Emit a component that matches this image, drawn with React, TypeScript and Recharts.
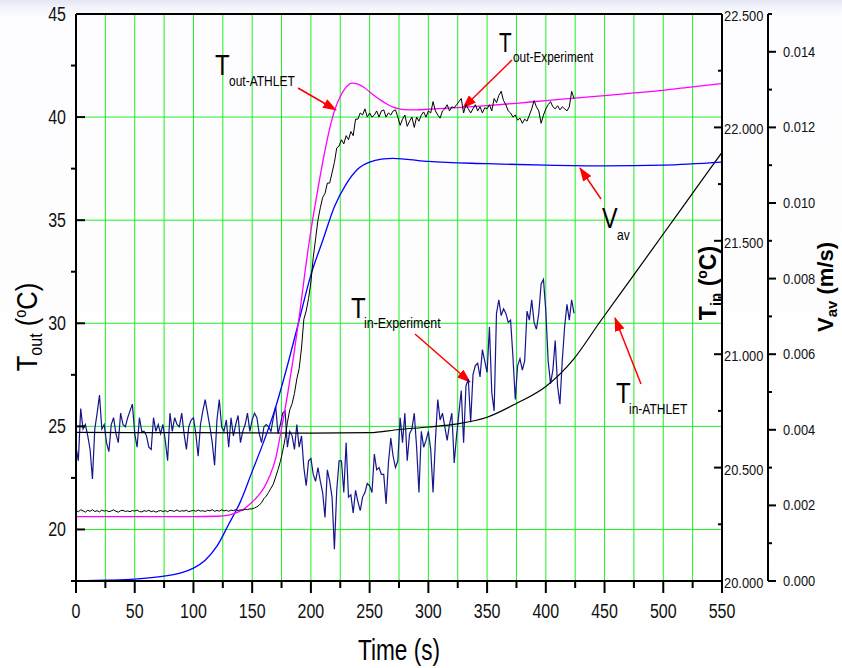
import React from 'react';
import { ComposedChart, Line, XAxis, YAxis, CartesianGrid, ReferenceLine, Customized } from 'recharts';

const FONT = '"Liberation Sans", Arial, Helvetica, sans-serif';

// ---- axis ticks ----
const X_TICKS = [0, 25, 50, 75, 100, 125, 150, 175, 200, 225, 250, 275, 300, 325, 350, 375, 400, 425, 450, 475, 500, 525, 550];
const L_TICKS = [17.5, 20, 22.5, 25, 27.5, 30, 32.5, 35, 37.5, 40, 42.5, 45];
const TIN_TICKS = [20, 20.25, 20.5, 20.75, 21, 21.25, 21.5, 21.75, 22, 22.25, 22.5];
const V_TICKS = [0, 0.001, 0.002, 0.003, 0.004, 0.005, 0.006, 0.007, 0.008, 0.009, 0.01, 0.011, 0.012, 0.013, 0.014, 0.015];
const GRID_Y = [20, 25, 30, 35, 40];

// ---- T_out-ATHLET (left axis, °C) ----
const T_OUT_ATHLET_T = [0, 50, 100, 120, 130, 135, 140, 145, 150, 155, 160, 165, 170, 175, 180, 185, 190, 195, 200, 205, 210, 215, 220, 225, 230, 235, 240, 245, 250, 255, 260, 265, 270, 275, 280, 290, 300, 325, 350, 375, 400, 425, 450, 475, 500, 525, 550];
const T_OUT_ATHLET = [20.62, 20.62, 20.62, 20.64, 20.7, 20.78, 20.9, 21.08, 21.33, 21.63, 22.02, 22.6, 23.45, 24.9, 26.5, 28.3, 30.3, 32.5, 34.5, 36.2, 37.8, 39.2, 40.3, 41.0, 41.45, 41.65, 41.6, 41.45, 41.22, 41.0, 40.8, 40.62, 40.48, 40.4, 40.36, 40.35, 40.38, 40.46, 40.56, 40.67, 40.8, 40.92, 41.04, 41.17, 41.3, 41.47, 41.63];

// ---- T_out-Experiment (left axis, °C), sampled every 2 s from t = 0 ----
const EXP_STEP = 2;
const T_OUT_EXP_BASE = [
  20.92, 20.86, 20.95, 20.9, 20.84, 20.93, 20.88, 20.96, 20.87, 20.91,
  20.85, 20.94, 20.89, 20.92, 20.86, 20.9, 20.95, 20.88, 20.84, 20.91,
  20.93, 20.87, 20.9, 20.86, 20.92, 20.89, 20.94, 20.87, 20.85, 20.91,
  20.88, 20.93, 20.86, 20.9, 20.84, 20.89, 20.92, 20.87, 20.91, 20.86,
  20.93, 20.9, 20.88, 20.95, 20.87, 20.91, 20.89, 20.93, 20.86, 20.9,
  20.92, 20.88, 20.94, 20.89, 20.91, 20.87, 20.93, 20.9, 20.96, 20.88,
  20.92, 20.89, 20.95, 20.9, 20.93, 20.88, 20.94, 20.91, 20.96, 20.92,
  20.95, 20.93, 20.98, 20.96, 21.0,
];
const T_OUT_EXP_RISE = [
  21.0, 21.04, 21.1, 21.18, 21.3, 21.5, 21.62, 21.8, 22.0, 22.2,
  22.55, 22.9, 23.3, 23.8, 24.4, 25.2, 25.8, 26.1, 26.6, 27.3,
  27.8, 28.8, 30.2, 30.6, 31.2, 32.0, 33.2, 34.1, 35.0, 35.6,
  36.1, 36.3, 36.8, 36.8, 37.3, 37.8, 38.5, 38.6, 38.9, 38.7,
  39.1, 38.9, 39.3, 39.1, 39.9, 39.9, 40.2, 40.1, 40.4, 40.0,
];
const T_OUT_EXP_TOP = [
  40.2, 40.0, 40.1, 40.3, 40.0, 40.3, 40.35, 40.0, 40.2, 40.1,
  40.3, 40.35, 40.0, 39.6, 39.9, 40.1, 39.55, 39.8, 40.0, 39.5,
  40.0, 39.8, 40.1, 40.25, 40.0, 40.3, 40.2, 40.75, 40.3, 40.1,
  39.95, 40.3, 40.4, 40.6, 40.3, 40.5, 40.45, 40.6, 40.75, 40.9,
  40.2, 40.6, 40.4, 40.2, 40.4, 40.6, 40.3, 40.5, 40.2, 40.45,
  40.4, 40.6, 40.3, 40.9, 40.7, 41.05, 41.25, 40.8, 40.6, 40.3,
  40.2, 40.0, 40.1, 39.85, 39.95, 39.7, 39.9, 39.8, 40.1, 40.4,
  40.8, 40.5, 40.3, 39.7, 40.1, 40.4, 40.6, 40.75, 40.5, 40.4,
  40.55, 40.35, 40.5, 40.4, 40.3, 40.5, 41.25, 40.9,
];

// ---- V_av (right axis 2, m/s) ----
const V_AV_T = [0, 25, 50, 75, 90, 100, 110, 120, 130, 140, 150, 160, 170, 180, 190, 200, 210, 220, 230, 240, 250, 260, 270, 280, 300, 350, 400, 450, 500, 550];
const V_AV = [0, 0.00002, 0.00005, 0.00013, 0.00022, 0.00034, 0.00055, 0.00092, 0.0015, 0.0021, 0.0029, 0.0037, 0.0046, 0.0057, 0.0069, 0.0081, 0.009, 0.0099, 0.0105, 0.0109, 0.01108, 0.01116, 0.01118, 0.01116, 0.0111, 0.01104, 0.011, 0.01098, 0.011, 0.01108];

// ---- T_in-ATHLET (right axis 1, °C) ----
const T_IN_ATHLET_T = [0, 100, 200, 250, 275, 300, 325, 350, 375, 400, 423, 446, 475, 500, 525, 550];
const T_IN_ATHLET = [20.655, 20.654, 20.652, 20.654, 20.668, 20.679, 20.693, 20.722, 20.783, 20.858, 20.974, 21.142, 21.35, 21.53, 21.71, 21.89];

// ---- T_in-Experiment (right axis 1, °C), sampled every 2 s from t = 0 ----
const T_IN_EXP_A = [
  20.59, 20.53, 20.76, 20.67, 20.69, 20.64, 20.58, 20.45, 20.67, 20.74,
  20.82, 20.67, 20.69, 20.61, 20.57, 20.69, 20.72, 20.65, 20.61, 20.74,
  20.69, 20.68, 20.72, 20.75, 20.78, 20.65, 20.59, 20.72, 20.66, 20.66,
  20.64, 20.59, 20.58, 20.72, 20.66, 20.69, 20.65, 20.69, 20.62, 20.53,
  20.74, 20.66, 20.72, 20.69, 20.68, 20.74, 20.65, 20.58, 20.68, 20.71,
  20.72, 20.65, 20.55, 20.69, 20.75, 20.8, 20.74, 20.68, 20.61, 20.51,
  20.71, 20.8, 20.68, 20.66, 20.71, 20.59, 20.72, 20.64, 20.69, 20.73,
  20.61, 20.66, 20.69, 20.74, 20.66, 20.71, 20.74, 20.72, 20.65, 20.61,
  20.68, 20.69, 20.68, 20.66, 20.72, 20.77, 20.65, 20.69, 20.74, 20.75,
  20.59, 20.66, 20.64, 20.58,
];
const T_IN_EXP_B = [
  20.69, 20.59, 20.64, 20.5, 20.42, 20.53, 20.54, 20.47, 20.44, 20.5,
  20.44, 20.39, 20.28, 20.49, 20.44, 20.37, 20.14, 20.4, 20.53, 20.53,
  20.39, 20.61, 20.37, 20.38, 20.3, 20.4, 20.35, 20.31, 20.37, 20.39,
  20.43, 20.42, 20.39, 20.56, 20.49, 20.5, 20.47, 20.47, 20.34, 20.52,
  20.63, 20.55, 20.5, 20.53, 20.72, 20.61, 20.74, 20.53, 20.65, 20.67,
  20.74, 20.59, 20.39, 20.66, 20.59, 20.62, 20.66, 20.58, 20.39, 20.62,
  20.8, 20.71, 20.74, 20.68, 20.62, 20.69, 20.74, 20.52, 20.64, 20.74,
  20.84, 20.61, 20.86, 20.89, 20.7, 20.91, 20.95, 20.96, 20.9, 21.02,
  20.97, 20.92, 21.12, 20.83, 20.75, 21.18, 21.24, 21.17, 21.2, 21.18,
  21.14, 21.15, 20.99, 20.8, 20.95, 20.98, 20.93, 20.97, 21.19, 21.15,
  21.24, 21.14, 21.11, 21.18, 21.31, 21.33, 21.19, 20.97, 20.87, 20.93,
  21.06, 20.86, 20.78, 20.97, 21.12, 21.22, 21.15, 21.24, 21.18,
];

// ---- build series tables ----
const pairs = (ts: number[], vs: number[]) => ts.map((t, i) => ({ t, v: vs[i] }));
const sampled = (vs: number[]) => vs.map((v, i) => ({ t: i * EXP_STEP, v }));

const tOutAthletData = pairs(T_OUT_ATHLET_T, T_OUT_ATHLET);
const tOutExpData = sampled([...T_OUT_EXP_BASE, ...T_OUT_EXP_RISE, ...T_OUT_EXP_TOP]);
const vAvData = pairs(V_AV_T, V_AV);
const tInAthletData = pairs(T_IN_ATHLET_T, T_IN_ATHLET);
const tInExpData = sampled([...T_IN_EXP_A, ...T_IN_EXP_B]);

const isMult = (v: number, m: number) => Math.abs(v / m - Math.round(v / m)) < 1e-6;

const XTick = (p: any) => {
  const { x, y, payload } = p;
  const v = payload.value as number;
  const major = isMult(v, 50);
  return (
    <g>
      <line x1={x} x2={x} y1={y} y2={y + (major ? 12 : 7)} stroke="#000" strokeWidth={2} />
      {major && (
        <text transform={`translate(${x},${y + 37}) scale(0.8,1)`} textAnchor="middle" fontSize={20} fontFamily={FONT} fill="#111">
          {v}
        </text>
      )}
    </g>
  );
};

const LeftTick = (p: any) => {
  const { x, y, payload } = p;
  const v = payload.value as number;
  const major = isMult(v, 5);
  return (
    <g>
      <line x1={major ? x : x - 5} x2={major ? x + 9 : x} y1={y} y2={y} stroke="#000" strokeWidth={2} />
      {major && (
        <text transform={`translate(${x - 10},${y + 7}) scale(0.8,1)`} textAnchor="end" fontSize={20} fontFamily={FONT} fill="#111">
          {v}
        </text>
      )}
    </g>
  );
};

const TinTick = (p: any) => {
  const { x, y, payload } = p;
  const v = payload.value as number;
  const major = isMult(v, 0.5);
  return (
    <g>
      <line x1={x - (major ? 8 : 4)} x2={x} y1={y} y2={y} stroke="#000" strokeWidth={2} />
      {major && (
        <text transform={`translate(${x + 2},${y + 7}) scale(0.92,1)`} textAnchor="start" fontSize={14} fontFamily={FONT} fill="#111">
          {v.toFixed(3)}
        </text>
      )}
    </g>
  );
};

const VTick = (p: any) => {
  const { x, y, payload } = p;
  const v = payload.value as number;
  const major = isMult(v, 0.002) && v < 0.0145;
  return (
    <g>
      <line x1={x} x2={x + (major ? 8 : 4)} y1={y} y2={y} stroke="#000" strokeWidth={2} />
      {major && (
        <text transform={`translate(${x + 15},${y + 5}) scale(0.92,1)`} textAnchor="start" fontSize={14} fontFamily={FONT} fill="#111">
          {v.toFixed(3)}
        </text>
      )}
    </g>
  );
};

const CT = ({ x, y, size, sx = 0.8, anchor = 'start', children }: any) => (
  <text transform={`translate(${x},${y}) scale(${sx},1)`} fontSize={size} textAnchor={anchor} fontFamily={FONT} fill="#000">
    {children}
  </text>
);

const Arrow = ({ x1, y1, x2, y2 }: any) => (
  <line x1={x1} y1={y1} x2={x2} y2={y2} stroke="#ff0000" strokeWidth={1.5} markerEnd="url(#redArrow)" />
);

const Annotations = () => (
  <g>
    <defs>
      <marker id="redArrow" viewBox="0 0 14 10" refX="13" refY="5" markerWidth="14" markerHeight="10" orient="auto" markerUnits="userSpaceOnUse">
        <path d="M0,0 L14,5 L0,10 z" fill="#ff0000" />
      </marker>
    </defs>
    {/* T_out-ATHLET */}
    <CT x={215} y={75} size={30}>T</CT>
    <CT x={229} y={86} size={15}>out-ATHLET</CT>
    <Arrow x1={298} y1={88} x2={336} y2={110} />
    {/* T_out-Experiment */}
    <CT x={499} y={52} size={28} sx={0.74}>T</CT>
    <CT x={513} y={62} size={15} sx={0.79}>out-Experiment</CT>
    <Arrow x1={512} y1={60} x2={463} y2={108} />
    {/* V_av */}
    <CT x={602} y={228} size={30} sx={0.78}>V</CT>
    <CT x={617} y={240} size={15}>av</CT>
    <Arrow x1={601} y1={199} x2={580} y2={168} />
    {/* T_in-Experiment */}
    <CT x={351} y={318} size={30}>T</CT>
    <CT x={364} y={328} size={15} sx={0.83}>in-Experiment</CT>
    <Arrow x1={415} y1={334} x2={470} y2={382} />
    {/* T_in-ATHLET */}
    <CT x={616} y={403} size={30}>T</CT>
    <CT x={629} y={414} size={15}>in-ATHLET</CT>
    <Arrow x1={641} y1={384} x2={615} y2={318} />

    {/* axis titles */}
    <text transform="translate(37,327) rotate(-90) scale(0.85,1)" textAnchor="middle" fontSize={30} fontFamily={FONT} fill="#000">
      T<tspan fontSize={19} dy={5}>out</tspan>
      <tspan dy={-5}> (</tspan>
      <tspan fontSize={17} dy={-11}>o</tspan>
      <tspan dy={11}>C)</tspan>
    </text>
    <text transform="translate(716,283) rotate(-90)" textAnchor="middle" fontSize={23} fontWeight={700} fontFamily={FONT} fill="#000">
      T<tspan fontSize={15} dy={5}>in</tspan>
      <tspan dy={-5}> (</tspan>
      <tspan fontSize={14} dy={-9}>o</tspan>
      <tspan dy={9}>C)</tspan>
    </text>
    <text transform="translate(833,287) rotate(-90)" textAnchor="middle" fontSize={22} fontWeight={700} fontFamily={FONT} fill="#000">
      V<tspan fontSize={15} dy={4}>av</tspan>
      <tspan dy={-4}> (m/s)</tspan>
    </text>
    <CT x={399} y={660} size={29} sx={0.78} anchor="middle">Time (s)</CT>
  </g>
);

export default function App() {
  return (
    <div
      style={{
        position: 'absolute',
        left: 0,
        top: 0,
        width: 842,
        height: 668,
        overflow: 'hidden',
        background: 'linear-gradient(to bottom, #e4e6f4 0px, #f5f6fc 9px, #fdfdff 18px, #ffffff 100%)',
      }}
    >
      <ComposedChart width={842} height={668} margin={{ top: 14, right: 16, bottom: 0, left: 0 }}>
        <CartesianGrid yAxisId="L" stroke="#22ee22" strokeWidth={1} horizontalValues={GRID_Y} />
        <XAxis
          dataKey="t"
          type="number"
          domain={[0, 550]}
          ticks={X_TICKS}
          interval={0}
          allowDataOverflow
          height={87}
          tickSize={0}
          tickMargin={0}
          tickLine={false}
          axisLine={{ stroke: '#000', strokeWidth: 2 }}
          tick={(p: any) => <XTick {...p} />}
        />
        <YAxis
          yAxisId="L"
          orientation="left"
          type="number"
          domain={[17.5, 45]}
          ticks={L_TICKS}
          interval={0}
          allowDataOverflow
          width={76}
          tickSize={0}
          tickMargin={0}
          tickLine={false}
          axisLine={{ stroke: '#000', strokeWidth: 2 }}
          tick={(p: any) => <LeftTick {...p} />}
        />
        <YAxis
          yAxisId="T"
          orientation="right"
          type="number"
          domain={[20, 22.5]}
          ticks={TIN_TICKS}
          interval={0}
          allowDataOverflow
          width={46}
          tickSize={0}
          tickMargin={0}
          tickLine={false}
          axisLine={{ stroke: '#000', strokeWidth: 2 }}
          tick={(p: any) => <TinTick {...p} />}
        />
        <YAxis
          yAxisId="V"
          orientation="right"
          type="number"
          domain={[0, 0.015]}
          ticks={V_TICKS}
          interval={0}
          allowDataOverflow
          width={58}
          tickSize={0}
          tickMargin={0}
          tickLine={false}
          axisLine={{ stroke: '#000', strokeWidth: 2 }}
          tick={(p: any) => <VTick {...p} />}
        />
        <ReferenceLine yAxisId="L" y={45} stroke="#000" strokeWidth={2} />
        <Line yAxisId="T" data={tInExpData} dataKey="v" type="linear" stroke="#16168c" strokeWidth={1.2} dot={false} activeDot={false} isAnimationActive={false} />
        <Line yAxisId="T" data={tInAthletData} dataKey="v" type="monotone" stroke="#000" strokeWidth={1.2} dot={false} activeDot={false} isAnimationActive={false} />
        <Line yAxisId="V" data={vAvData} dataKey="v" type="monotone" stroke="#0000ff" strokeWidth={1.3} dot={false} activeDot={false} isAnimationActive={false} />
        <Line yAxisId="L" data={tOutAthletData} dataKey="v" type="monotone" stroke="#ff00ff" strokeWidth={1.3} dot={false} activeDot={false} isAnimationActive={false} />
        <Line yAxisId="L" data={tOutExpData} dataKey="v" type="linear" stroke="#000" strokeWidth={1} dot={false} activeDot={false} isAnimationActive={false} />
        <Customized component={Annotations} />
      </ComposedChart>
    </div>
  );
}
